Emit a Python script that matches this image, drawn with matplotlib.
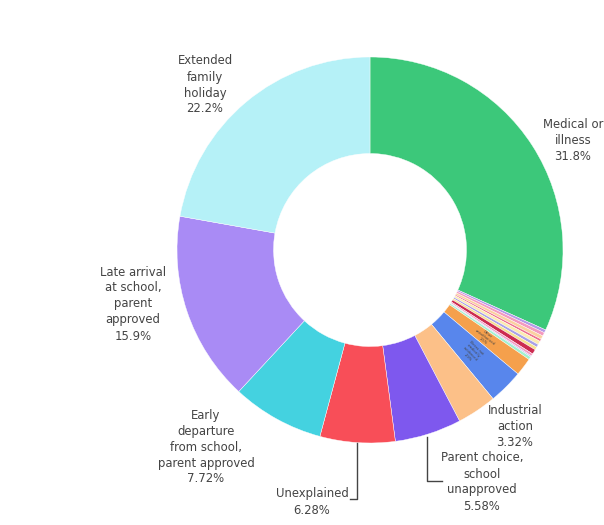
import matplotlib
matplotlib.use("Agg")
import matplotlib.pyplot as plt
import numpy as np

# slices in clockwise order from 12 o'clock
labels = ["Medical or\nillness",
          "Religious\nobservance", "Study\nleave", "Traveller\nabsence", "Excluded",
          "Agreed\nholiday", "Unagreed\nholiday", "Medical\nappointment", "Late after\nregisters closed",
          "No reason\nyet", "Other\nauthorised", "Bereavement",
          "Other\nunauthorised", "Illness not\nmedically\nevidenced",
          "Industrial\naction", "Parent choice,\nschool\nunapproved", "Unexplained",
          "Early\ndeparture\nfrom school,\nparent approved",
          "Late arrival\nat school,\nparent\napproved",
          "Extended\nfamily\nholiday"]
values = [31.8,
          0.25, 0.3, 0.3, 0.2, 0.3, 0.25, 0.25, 0.4, 0.2, 0.1, 0.25,
          1.5, 2.9,
          3.32, 5.58, 6.28, 7.72, 15.9, 22.2]
colors = ["#3cc87a",
          "#b49ae8", "#f49ac0", "#fbd0a0", "#ee7090", "#fcebb0", "#a8a0e8",
          "#f6e28e", "#cc2c50", "#f59ac0", "#c8b0f0", "#a0f2d0",
          "#f5a04c", "#5886ec",
          "#fcc088", "#7e58ee", "#f84e58", "#44d2e0", "#a98bf5", "#b5f1f7"]

W, H = 604, 525
fig = plt.figure(figsize=(W / 100, H / 100), dpi=100)
ax = fig.add_axes([0, 0, 1, 1])

R = 193
cx, cy = 370, H - 250
wedges, _ = ax.pie(values, colors=colors, radius=R, center=(cx, cy),
                   startangle=90, counterclock=False,
                   wedgeprops=dict(width=R * 0.5, edgecolor="white", linewidth=0.3))
ax.set_xlim(0, W)
ax.set_ylim(0, H)
ax.set_aspect("equal")
ax.axis("off")

total = sum(values)
pct = [v / total * 100 for v in values]

txt = dict(color="#444444", fontsize=8.4, ha="center", va="center",
           linespacing=1.3, family="DejaVu Sans")

# outside labels (image pixel positions, y down)
outside = {0: (573, 140), 19: (205, 85), 18: (133, 304), 17: (206, 447),
           16: (312, 502), 15: (482, 482), 14: (515, 427)}
for i, (x, y) in outside.items():
    ax.text(x, H - y, f"{labels[i]}\n{pct[i]:.3g}%", **txt)

# leader lines
ax.plot([357, 357, 350], [H - 443, H - 499, H - 499], color="#444444", lw=1)
ax.plot([427, 427, 442], [H - 437, H - 481, H - 481], color="#444444", lw=1)

# tiny inside labels of the two thin slices
for i in (12, 13):
    w = wedges[i]
    mid = np.deg2rad((w.theta1 + w.theta2) / 2)
    r = R * 0.75
    ax.text(cx + r * np.cos(mid), cy + r * np.sin(mid),
            f"{labels[i]}\n{pct[i]:.3g}%", color="#444444", fontsize=2.6,
            ha="center", va="center", rotation=np.rad2deg(mid) - 360,
            rotation_mode="anchor", linespacing=1.1)

fig.savefig("out.png", dpi=100)
